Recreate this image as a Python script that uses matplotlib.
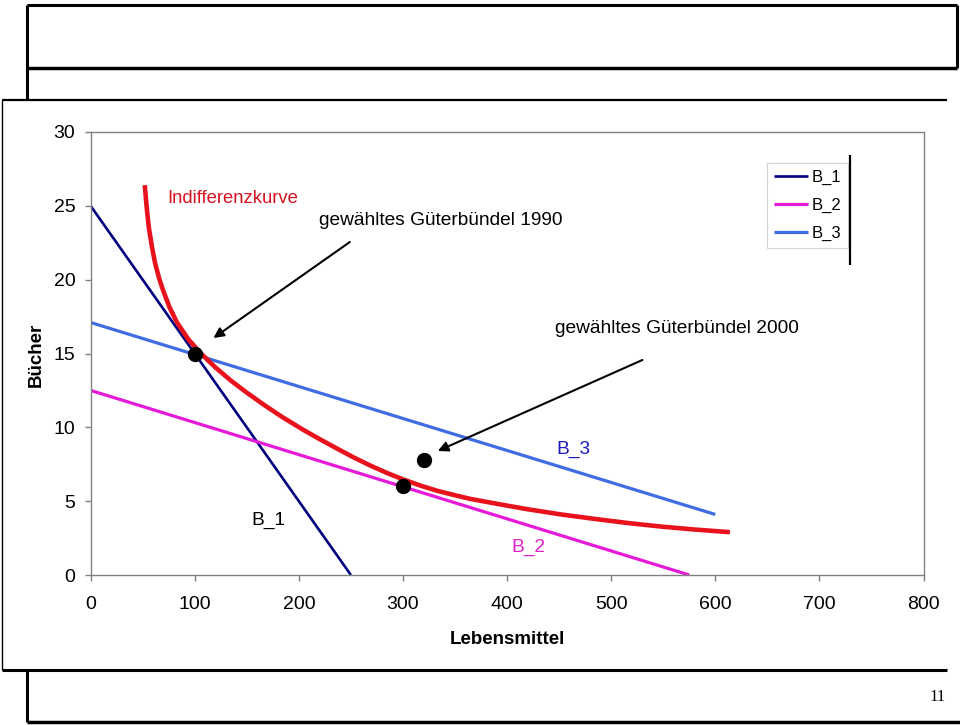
import matplotlib.pyplot as plt
from matplotlib.lines import Line2D

plt.rcParams['font.family'] = ['Liberation Sans', 'DejaVu Sans']

# budget lines (two end points each)
b1_x = [0, 250]
b1_y = [25, 0]
b2_x = [0, 575]
b2_y = [12.5, 0]
b3_x = [0, 600]
b3_y = [17.1, 4.1]

# indifference curve
ik_x = [52, 54, 56, 59, 62, 66, 70, 76, 83, 94, 106, 120, 135, 150, 167, 184, 205, 220,
        237, 253, 269, 285, 301, 317, 333, 350, 365, 392, 420, 452, 484, 516, 548, 580, 614]
ik_y = [26.4, 24.8, 23.5, 22.2, 21.1, 20.05, 19.2, 18.1, 17.1, 15.95, 15.0, 14.05, 13.15,
        12.35, 11.5, 10.7, 9.8, 9.2, 8.55, 7.95, 7.4, 6.9, 6.45, 6.05, 5.7, 5.4, 5.15,
        4.8, 4.45, 4.1, 3.8, 3.52, 3.28, 3.08, 2.9]

# chosen bundles
pts_x = [100, 300, 320]
pts_y = [15, 6, 7.8]

x_ticks = [0, 100, 200, 300, 400, 500, 600, 700, 800]
y_ticks = [0, 5, 10, 15, 20, 25, 30]

W, H = 960, 725


def px(x, y):
    # pixel position -> figure fraction
    return x / W, 1 - y / H


def fig_line(x0, y0, x1, y1, lw):
    a = px(x0, y0)
    b = px(x1, y1)
    fig.add_artist(Line2D([a[0], b[0]], [a[1], b[1]], transform=fig.transFigure,
                          color='black', lw=lw, solid_capstyle='butt'))


fig = plt.figure(figsize=(9.6, 7.25), dpi=100)

# slide frames around the chart
fig_line(27, 5, 957, 5, 2.2)
fig_line(27, 5, 27, 100, 2.2)
fig_line(957, 5, 957, 68, 2.2)
fig_line(27, 68, 957, 68, 2.5)
fig_line(2, 100, 947, 100, 1.6)
fig_line(2, 100, 2, 670, 1.0)
fig_line(2, 670, 947, 670, 2.2)
fig_line(27, 670, 27, 722, 2.2)
fig_line(27, 722, 960, 722, 2.5)
fig_line(850, 155, 850, 265, 1.6)
fig.text(*px(946, 697), '11', fontsize=12, family='Liberation Serif', ha='right', va='center')

l, b = px(90.6, 575)
r, t = px(923.5, 132)
ax = fig.add_axes([l, b, r - l, t - b])

l1, = ax.plot(b1_x, b1_y, color='#000080', lw=1.9, label='B_1', solid_capstyle='butt')
l2, = ax.plot(b2_x, b2_y, color='#E619D8', lw=2.3, label='B_2', solid_capstyle='butt')
l3, = ax.plot(b3_x, b3_y, color='#3F6CE3', lw=2.3, label='B_3', solid_capstyle='butt')
ax.plot(ik_x, ik_y, color='#E8121C', lw=3.3, solid_capstyle='butt',
        solid_joinstyle='round', zorder=3)
ax.plot(pts_x, pts_y, 'o', color='black', ms=10, zorder=4)

ax.set_xlim(0, 800)
ax.set_ylim(0, 30)
ax.set_xticks(x_ticks)
ax.set_yticks(y_ticks)
for s in ax.spines.values():
    s.set_color('#808080')
    s.set_linewidth(1.0)
ax.tick_params(axis='both', colors='#808080', labelcolor='black', labelsize=14,
               length=4, width=1.0)
ax.tick_params(axis='x', pad=11)
ax.tick_params(axis='y', pad=7)

ax.set_xlabel('Lebensmittel', fontsize=13.5, fontweight='bold')
ax.xaxis.set_label_coords(0.5, -0.127)
ax.set_ylabel('Bücher', fontsize=13.5, fontweight='bold')
ax.yaxis.set_label_coords(-0.055, 0.497)

ax.text(74, 25.5, 'Indifferenzkurve', color='#D81020', fontsize=13.3, va='center')
ax.text(219, 24.0, 'gewähltes Güterbündel 1990', color='black', fontsize=13.8, va='center')
ax.text(446, 16.7, 'gewähltes Güterbündel 2000', color='black', fontsize=13.8, va='center')
ax.text(447, 8.5, 'B_3', color='#1A1ABF', fontsize=13.8, va='center')
ax.text(404, 1.9, 'B_2', color='#DD22CC', fontsize=13.8, va='center')
ax.text(154, 3.7, 'B_1', color='black', fontsize=13.8, va='center')

arrow = dict(arrowstyle='-|>', color='black', lw=1.5, mutation_scale=15, shrinkA=0, shrinkB=0)
ax.annotate('', xy=(118, 16.05), xytext=(249, 22.55), arrowprops=arrow)
ax.annotate('', xy=(333.5, 8.4), xytext=(530, 14.56), arrowprops=arrow)

leg = ax.legend(handles=[l1, l2, l3], loc='upper left',
                bbox_to_anchor=px(767, 163), bbox_transform=fig.transFigure,
                fontsize=12, frameon=True, fancybox=False, edgecolor='#c8c8c8',
                handlelength=2.05, handletextpad=0.25, labelspacing=0.78,
                borderpad=0.4, borderaxespad=0)
leg.get_frame().set_linewidth(0.8)

fig.savefig('out.png', dpi=100)
